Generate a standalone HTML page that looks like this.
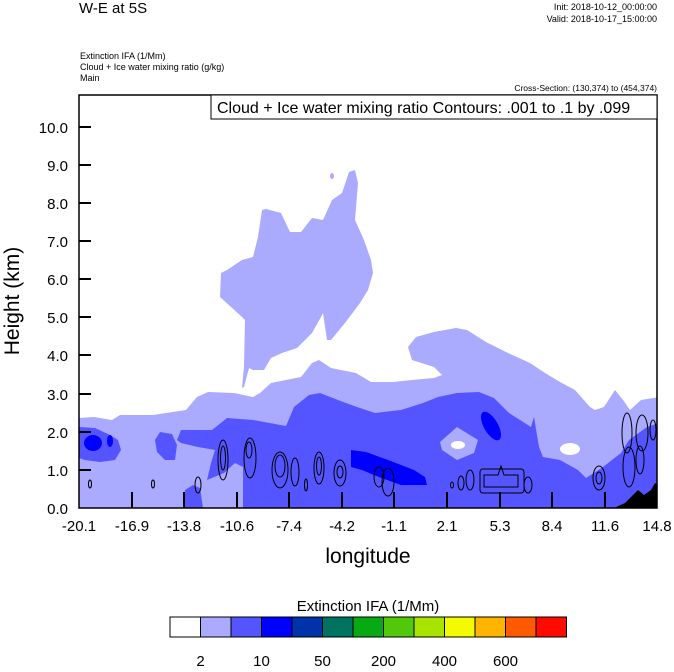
<!DOCTYPE html>
<html><head><meta charset="utf-8"><style>
body{margin:0;background:#fff;}
svg text{font-family:"Liberation Sans",sans-serif;fill:#000;}
</style></head><body>
<svg width="674" height="667" viewBox="0 0 674 667" xmlns="http://www.w3.org/2000/svg">
<rect width="674" height="667" fill="#fff"/>
<text x="79" y="13" font-size="15">W-E at 5S</text>
<text x="657" y="10" font-size="9" text-anchor="end">Init: 2018-10-12_00:00:00</text>
<text x="657" y="22" font-size="9" text-anchor="end">Valid: 2018-10-17_15:00:00</text>
<text x="80" y="59" font-size="9">Extinction IFA   (1/Mm)</text>
<text x="80" y="70" font-size="9">Cloud + Ice water mixing ratio    (g/kg)</text>
<text x="80" y="81" font-size="9">Main</text>
<text x="657" y="91" font-size="8.5" text-anchor="end">Cross-Section: (130,374) to (454,374)</text>

<clipPath id="c"><rect x="79" y="95" width="578" height="413"/></clipPath>
<g clip-path="url(#c)">
<!-- light layer -->
<polygon fill="#aaaaff" points="79,418 94,417 112,420 120,415 153,415 186,410 197,397 208,392 234,393 253,397 260,393 271,383 286,380 301,377 312,363 319,360 331,368 356,373 371,382 393,382 412,380 434,378 442,375 434,367 412,360 408,347 416,337 434,332 456,328 467,330 486,342 508,353 530,363 545,373 560,382 575,390 590,407 595,410 604,407 615,390 623,400 630,410 641,400 659,397 659,510 79,510"/>
<!-- tall blob -->
<polygon fill="#aaaaff" points="242,388 244,367 245,320 242,317 220,297 221,273 227,270 242,260 253,257 258,237 262,210 266,209 281,213 290,232 301,232 312,218 323,220 332,200 342,193 349,172 355,170 358,183 355,220 364,240 371,260 373,273 368,290 360,303 345,323 331,340 327,340 323,313 321,317 312,333 297,348 282,353 271,358 264,370 253,370 249,368 244,387"/>
<ellipse cx="332" cy="176" rx="2" ry="3" fill="#aaaaff"/>
<ellipse cx="570" cy="449" rx="10" ry="6" fill="#fff"/>
<!-- mid layer -->
<polygon fill="#5555ff" points="212,430 227,418 253,420 286,426 294,407 309,395 320,393 338,400 357,407 375,413 401,410 423,403 438,397 457,393 479,392 494,398 509,413 531,427 534,417 539,447 543,457 560,460 578,470 586,478 603,467 621,453 629,440 647,427 659,423 659,510 243,510 243,467 235,463 224,473 207,480 211,463 215,450 198,447 181,443 177,440 181,430"/>
<polygon fill="#5555ff" points="183,508 185,490 193,485 200,488 203,508"/>
<polygon fill="#5555ff" points="79,427 95,428 110,435 118,440 121,450 115,460 100,462 85,460 79,458"/>
<polygon fill="#5555ff" points="155,440 160,432 172,434 177,445 175,460 165,460 157,452"/>
<!-- light diamond -->
<polygon fill="#aaaaff" points="440,442 457,427 478,440 474,453 457,460 442,450"/>
<ellipse cx="458" cy="445" rx="7" ry="4" fill="#fff"/>
<!-- dark -->
<ellipse cx="93" cy="443" rx="9" ry="8" fill="#0000ff"/>
<ellipse cx="110" cy="441" rx="3" ry="6" fill="#0000ff"/>
<polygon fill="#0000ff" points="351,450 366,452 388,460 414,470 425,477 427,485 401,485 379,477 362,470 351,467"/>
<ellipse cx="491" cy="426" rx="7" ry="16" transform="rotate(-30 491 426)" fill="#0000ff"/>
<!-- terrain -->
<polygon fill="#000" points="614,508 625,503 638,490 644,495 651,490 655,483 659,485 659,510"/>
<!-- contours -->
<g fill="none" stroke="#000" stroke-width="1">
<ellipse cx="90" cy="484" rx="1.5" ry="4"/>
<ellipse cx="153" cy="484" rx="1.5" ry="4"/>
<ellipse cx="198" cy="485" rx="3" ry="8"/>
<ellipse cx="223" cy="460" rx="5" ry="20"/><ellipse cx="223" cy="458" rx="2.5" ry="12"/>
<ellipse cx="250" cy="458" rx="6" ry="20"/><ellipse cx="249" cy="450" rx="3" ry="8"/>
<ellipse cx="280" cy="470" rx="8" ry="18"/><ellipse cx="280" cy="466" rx="5" ry="11"/>
<ellipse cx="295" cy="472" rx="4" ry="14"/>
<ellipse cx="306" cy="485" rx="1.5" ry="6"/>
<ellipse cx="319" cy="468" rx="5" ry="16"/><ellipse cx="319" cy="466" rx="2.5" ry="9"/>
<ellipse cx="340" cy="473" rx="6" ry="13"/><ellipse cx="340" cy="472" rx="3" ry="6"/>
<ellipse cx="379" cy="477" rx="5" ry="10"/><ellipse cx="388" cy="482" rx="6" ry="14"/>
<ellipse cx="452" cy="485" rx="1.5" ry="3"/>
<ellipse cx="461" cy="483" rx="3" ry="7"/><ellipse cx="470" cy="480" rx="4" ry="10"/>
<rect x="480" y="469" width="44" height="24" rx="3"/>
<path d="M484,475 L498,475 L501,466 L504,475 L518,475 L518,487 L484,487 Z"/>
<ellipse cx="528" cy="485" rx="4" ry="8"/>
<ellipse cx="599" cy="478" rx="6" ry="12"/><ellipse cx="599" cy="478" rx="3" ry="6"/>
<ellipse cx="627" cy="433" rx="5" ry="20"/><ellipse cx="642" cy="433" rx="6" ry="18"/>
<ellipse cx="629" cy="467" rx="6" ry="20"/><ellipse cx="653" cy="430" rx="3" ry="10"/>
<ellipse cx="640" cy="460" rx="4" ry="14"/>
</g>
</g>
<!-- axes -->
<rect x="79" y="95" width="578" height="413" fill="none" stroke="#000" stroke-width="1.5"/>
<rect x="211" y="95" width="446" height="24" fill="#fff" stroke="#000" stroke-width="1"/>
<text x="217" y="113" font-size="16">Cloud + Ice water mixing ratio Contours: .001 to .1 by .099</text>
<g stroke="#000" stroke-width="2">
<line x1="79" y1="127" x2="91" y2="127"/><line x1="79" y1="165" x2="91" y2="165"/>
<line x1="79" y1="203" x2="91" y2="203"/><line x1="79" y1="241" x2="91" y2="241"/>
<line x1="79" y1="279" x2="91" y2="279"/><line x1="79" y1="317" x2="91" y2="317"/>
<line x1="79" y1="355" x2="91" y2="355"/><line x1="79" y1="394" x2="91" y2="394"/>
<line x1="79" y1="432" x2="91" y2="432"/><line x1="79" y1="470" x2="91" y2="470"/>
<line x1="132" y1="508" x2="132" y2="492"/><line x1="184" y1="508" x2="184" y2="492"/>
<line x1="237" y1="508" x2="237" y2="492"/><line x1="289" y1="508" x2="289" y2="492"/>
<line x1="342" y1="508" x2="342" y2="492"/><line x1="394" y1="508" x2="394" y2="492"/>
<line x1="447" y1="508" x2="447" y2="492"/><line x1="500" y1="508" x2="500" y2="492"/>
<line x1="552" y1="508" x2="552" y2="492"/><line x1="605" y1="508" x2="605" y2="492"/>
</g>
<g font-size="15" text-anchor="end">
<text x="68" y="133">10.0</text><text x="68" y="171">9.0</text><text x="68" y="209">8.0</text>
<text x="68" y="247">7.0</text><text x="68" y="285">6.0</text><text x="68" y="323">5.0</text>
<text x="68" y="361">4.0</text><text x="68" y="400">3.0</text><text x="68" y="438">2.0</text>
<text x="68" y="476">1.0</text><text x="68" y="514">0.0</text>
</g>
<g font-size="15" text-anchor="middle">
<text x="79" y="531">-20.1</text><text x="132" y="531">-16.9</text><text x="184" y="531">-13.8</text>
<text x="237" y="531">-10.6</text><text x="289" y="531">-7.4</text><text x="342" y="531">-4.2</text>
<text x="394" y="531">-1.1</text><text x="447" y="531">2.1</text><text x="500" y="531">5.3</text>
<text x="552" y="531">8.4</text><text x="605" y="531">11.6</text><text x="657" y="531">14.8</text>
</g>
<text x="368" y="563" font-size="21" text-anchor="middle">longitude</text>
<text x="0" y="0" font-size="21" text-anchor="middle" transform="translate(19,301) rotate(-90)">Height (km)</text>
<!-- legend -->
<text x="368" y="611" font-size="15" text-anchor="middle">Extinction IFA  (1/Mm)</text>
<g stroke="#000" stroke-width="1">
<rect x="170" y="617" width="30.5" height="20" fill="#ffffff"/>
<rect x="200.5" y="617" width="30.5" height="20" fill="#aaaaff"/>
<rect x="231" y="617" width="30.5" height="20" fill="#5555ff"/>
<rect x="261.5" y="617" width="30.5" height="20" fill="#0000ff"/>
<rect x="292" y="617" width="30.5" height="20" fill="#0033aa"/>
<rect x="322.5" y="617" width="30.5" height="20" fill="#007260"/>
<rect x="353" y="617" width="30.5" height="20" fill="#08aa14"/>
<rect x="383.5" y="617" width="30.5" height="20" fill="#52c80a"/>
<rect x="414" y="617" width="30.5" height="20" fill="#a8e400"/>
<rect x="444.5" y="617" width="30.5" height="20" fill="#f4fb00"/>
<rect x="475" y="617" width="30.5" height="20" fill="#ffb400"/>
<rect x="505.5" y="617" width="30.5" height="20" fill="#ff5a00"/>
<rect x="536" y="617" width="30.5" height="20" fill="#ff0a00"/>
</g>
<g font-size="15" text-anchor="middle">
<text x="200.5" y="666">2</text><text x="261.5" y="666">10</text><text x="322.5" y="666">50</text>
<text x="383.5" y="666">200</text><text x="444.5" y="666">400</text><text x="505.5" y="666">600</text>
</g>
</svg>
</body></html>
